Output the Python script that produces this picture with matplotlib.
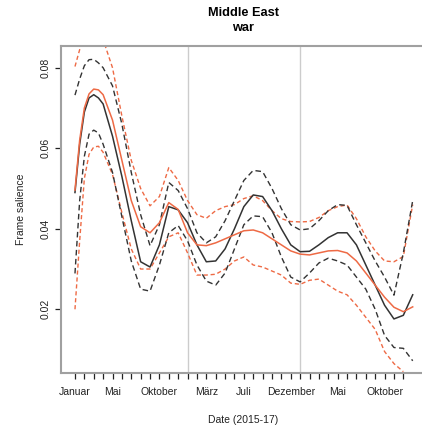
import numpy as np
import matplotlib
matplotlib.use("Agg")
import matplotlib.pyplot as plt

plt.rcParams['font.family'] = ['Liberation Sans', 'DejaVu Sans']

# months since January 2015
months = [0, 0.5, 1, 1.5, 2, 2.5, 3] + list(range(4, 37))

mean_black = [0.049, 0.061, 0.069, 0.0725, 0.0733, 0.0725, 0.071,
              0.063, 0.053, 0.042, 0.0318, 0.0305, 0.036, 0.0455, 0.0447, 0.0415, 0.036,
              0.0318, 0.032, 0.035, 0.040, 0.0455, 0.0484, 0.048, 0.0445, 0.040, 0.036,
              0.0343, 0.0344, 0.036, 0.0378, 0.039, 0.039, 0.036, 0.031, 0.026, 0.021,
              0.0176, 0.0185, 0.0236]
upper_black = [0.0732, 0.0772, 0.0805, 0.0820, 0.0821, 0.0812, 0.080,
               0.0755, 0.066, 0.054, 0.0435, 0.0358, 0.041, 0.0515, 0.0495, 0.045, 0.039,
               0.0365, 0.038, 0.042, 0.047, 0.052, 0.0545, 0.0542, 0.050, 0.045, 0.041,
               0.0397, 0.040, 0.042, 0.0445, 0.046, 0.0458, 0.041, 0.0365, 0.032, 0.028,
               0.0235, 0.034, 0.047]
lower_black = [0.0289, 0.047, 0.058, 0.0635, 0.0645, 0.0638, 0.061,
               0.054, 0.043, 0.032, 0.025, 0.0245, 0.031, 0.039, 0.0408, 0.037, 0.031,
               0.027, 0.026, 0.029, 0.035, 0.041, 0.0432, 0.043, 0.039, 0.033, 0.028,
               0.0268, 0.029, 0.0315, 0.0327, 0.032, 0.031, 0.028, 0.025, 0.020, 0.0135,
               0.0105, 0.0103, 0.0072]

mean_red = [0.0496, 0.062, 0.070, 0.0735, 0.0747, 0.0745, 0.0733,
            0.067, 0.057, 0.047, 0.0405, 0.039, 0.0415, 0.0465, 0.0448, 0.039, 0.036,
            0.0358, 0.0365, 0.0375, 0.0385, 0.0395, 0.0397, 0.039, 0.0375, 0.036, 0.0345,
            0.0337, 0.0335, 0.034, 0.0345, 0.0346, 0.034, 0.032, 0.029, 0.026, 0.023,
            0.0205, 0.0194, 0.0206]
upper_red = [0.0803, 0.0845, 0.0875, 0.089, 0.0895, 0.089, 0.087,
             0.080, 0.068, 0.057, 0.050, 0.0457, 0.048, 0.0552, 0.052, 0.047, 0.0435,
             0.0426, 0.0445, 0.0455, 0.046, 0.0475, 0.0482, 0.047, 0.0445, 0.0425, 0.0418,
             0.0417, 0.0418, 0.0428, 0.0445, 0.0455, 0.0459, 0.0425, 0.038, 0.0345, 0.032,
             0.0318, 0.0331, 0.046]
lower_red = [0.020, 0.037, 0.0525, 0.0585, 0.0603, 0.0605, 0.059,
             0.0535, 0.044, 0.035, 0.030, 0.030, 0.034, 0.038, 0.039, 0.034, 0.0285,
             0.0285, 0.0287, 0.030, 0.032, 0.033, 0.031, 0.0305, 0.0295, 0.0285, 0.0265,
             0.0262, 0.0272, 0.0275, 0.026, 0.0245, 0.0236, 0.021, 0.018, 0.015, 0.0095,
             0.0065, 0.0045, np.nan]

month_names = ["Januar", "Februar", "März", "April", "Mai", "Juni", "Juli", "August",
               "September", "Oktober", "November", "Dezember"]
label_months = [0, 4, 9, 14, 18, 23, 28, 33]
tick_months = list(range(36))
yticks = [0.02, 0.04, 0.06, 0.08]
year_lines = [12, 24]

BLACK = "#333333"
RED = "#EE6A45"

fig = plt.figure(figsize=(4.22, 4.26), dpi=100)
ax = fig.add_axes([61/422, 53/426, 364/422, 327/426])

for m in year_lines:
    ax.axvline(m, color="#cccccc", lw=1.0, zorder=0)

ax.plot(months, upper_red, color=RED, lw=1.0, dashes=(3, 2))
ax.plot(months, lower_red, color=RED, lw=1.0, dashes=(3, 2))
ax.plot(months, upper_black, color=BLACK, lw=1.0, dashes=(4, 2.5))
ax.plot(months, lower_black, color=BLACK, lw=1.0, dashes=(4, 2.5))
ax.plot(months, mean_black, color=BLACK, lw=1.1)
ax.plot(months, mean_red, color=RED, lw=1.1)

ax.set_xlim(-1.49, 37.31)
ax.set_ylim(0.00417, 0.0854)

ax.set_xticks(tick_months)
ax.set_xticklabels([month_names[m % 12] if m in label_months else "" for m in tick_months])
ax.set_yticks(yticks)
ax.set_yticklabels([f"{v:.2f}" for v in yticks], rotation=90, va="center")
ax.tick_params(axis="both", direction="out", length=4.3, width=0.9, color="#222222",
               labelsize=7.5, labelcolor="#222222")
ax.tick_params(axis="x", pad=6)
ax.tick_params(axis="y", pad=3)

for s in ["left", "top", "bottom", "right"]:
    ax.spines[s].set_color("#a0a0a0")
    ax.spines[s].set_linewidth(1.5)

ax.set_xlabel("Date (2015-17)", fontsize=7.5, color="#222222", labelpad=13)
ax.set_ylabel("Frame salience", fontsize=7.5, color="#222222", labelpad=11)
ax.set_title("Middle East\nwar", fontsize=9.2, fontweight="bold", pad=11, linespacing=1.33)

fig.savefig("out.png", dpi=100)
